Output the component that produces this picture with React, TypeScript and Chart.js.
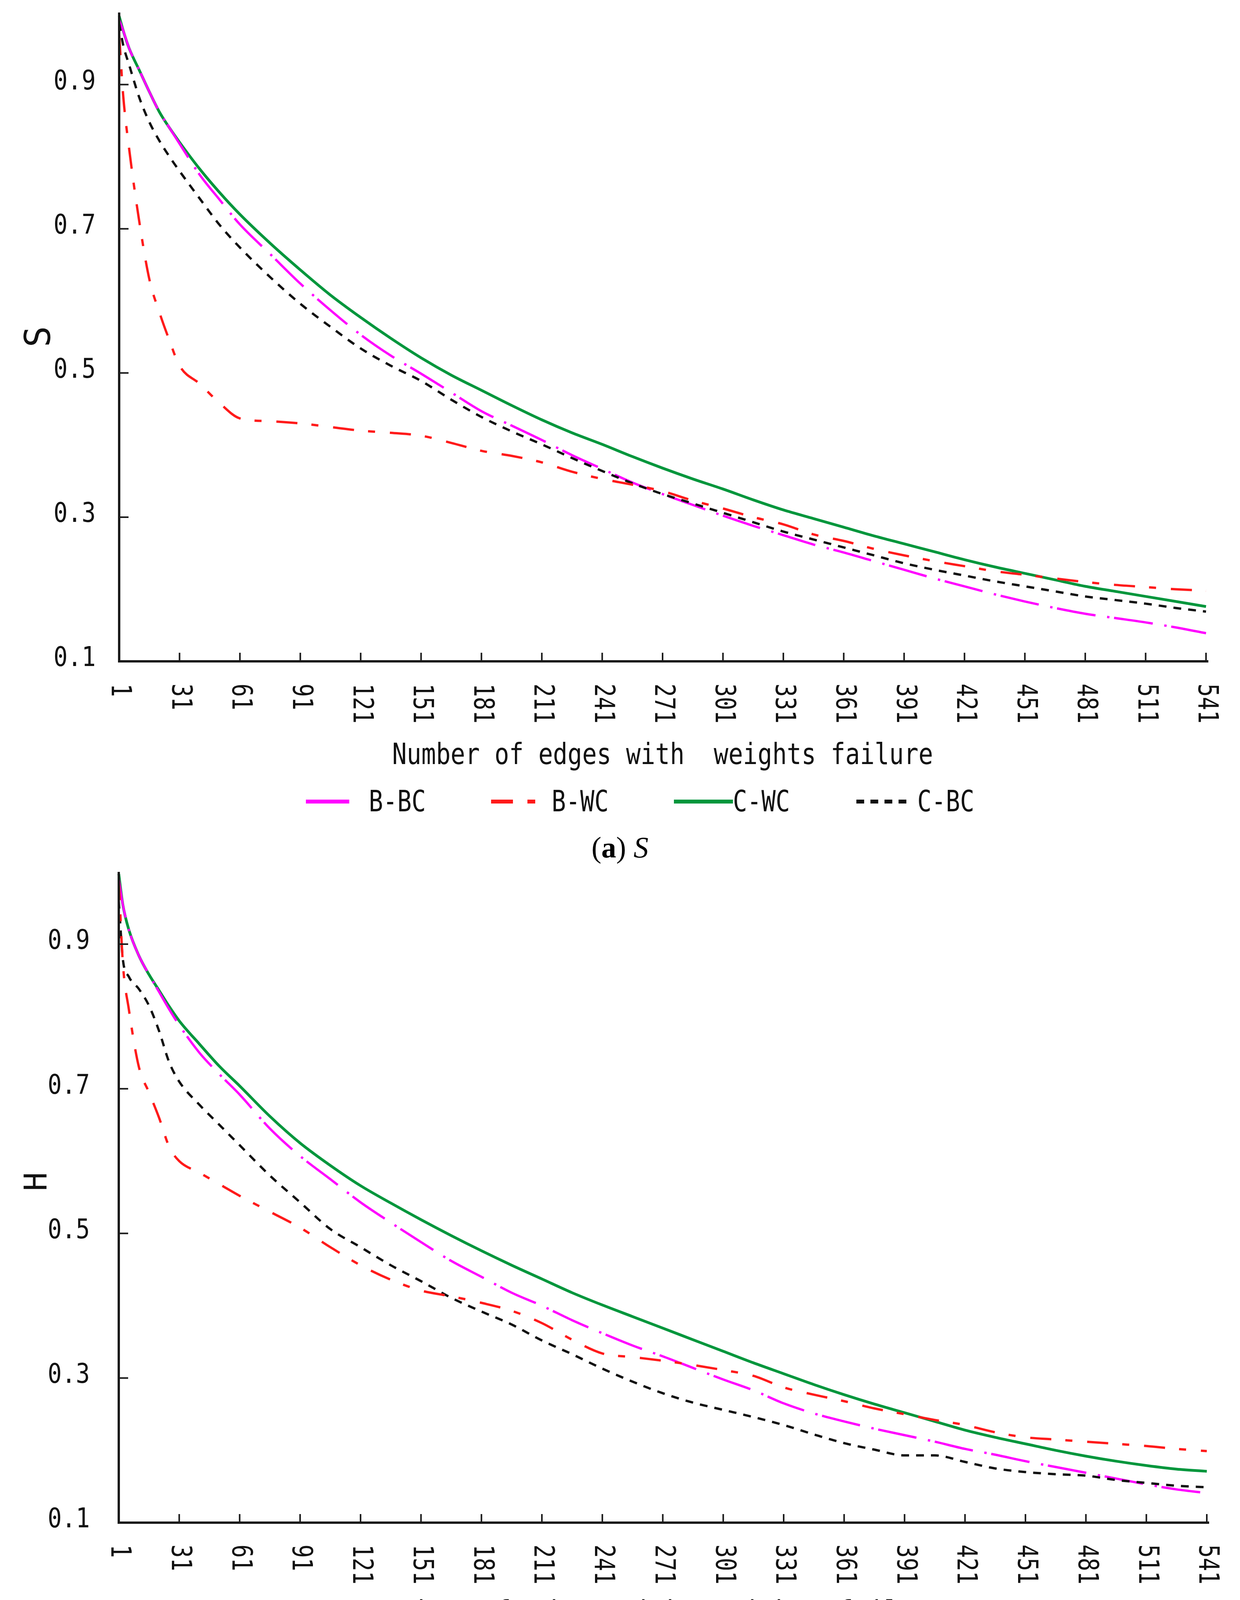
import { useEffect, useRef } from 'react';
import { Chart, registerables } from 'chart.js';

Chart.register(...registerables);

// x positions (number of edges with weights failure)
const xValues = [1, 3, 6, 11, 16, 21, 26, 31, 41, 51, 61, 76, 91, 106, 121, 136, 151, 166, 181, 196, 211, 226, 241, 256, 271, 286, 301, 316, 331, 346, 361, 376, 391, 406, 421, 436, 451, 466, 481, 496, 511, 526, 541];
const xTicks = [1, 31, 61, 91, 121, 151, 181, 211, 241, 271, 301, 331, 361, 391, 421, 451, 481, 511, 541];
const yTicks = [0.1, 0.3, 0.5, 0.7, 0.9];

// (a) S
const sBBC = [0.99, 0.975, 0.95, 0.92, 0.89, 0.862, 0.84, 0.818, 0.775, 0.74, 0.706, 0.665, 0.624, 0.587, 0.553, 0.524, 0.499, 0.473, 0.447, 0.427, 0.407, 0.386, 0.367, 0.348, 0.332, 0.317, 0.302, 0.288, 0.275, 0.262, 0.251, 0.239, 0.227, 0.215, 0.204, 0.193, 0.183, 0.174, 0.166, 0.16, 0.154, 0.147, 0.139];
const sBWC = [0.97, 0.885, 0.81, 0.71, 0.63, 0.584, 0.545, 0.51, 0.485, 0.458, 0.437, 0.433, 0.43, 0.425, 0.42, 0.417, 0.413, 0.403, 0.392, 0.385, 0.376, 0.363, 0.353, 0.345, 0.336, 0.323, 0.312, 0.3, 0.29, 0.276, 0.267, 0.256, 0.247, 0.239, 0.232, 0.225, 0.22, 0.215, 0.21, 0.206, 0.203, 0.2, 0.198];
const sCWC = [0.995, 0.975, 0.95, 0.92, 0.89, 0.862, 0.84, 0.82, 0.783, 0.75, 0.72, 0.68, 0.643, 0.608, 0.577, 0.548, 0.521, 0.497, 0.476, 0.455, 0.435, 0.417, 0.401, 0.384, 0.368, 0.353, 0.339, 0.324, 0.31, 0.298, 0.286, 0.274, 0.263, 0.252, 0.241, 0.231, 0.222, 0.213, 0.204, 0.197, 0.19, 0.183, 0.176];
const sCBC = [0.985, 0.955, 0.927, 0.882, 0.848, 0.822, 0.8, 0.78, 0.742, 0.705, 0.674, 0.633, 0.596, 0.564, 0.534, 0.51, 0.489, 0.463, 0.439, 0.419, 0.401, 0.382, 0.364, 0.347, 0.332, 0.319, 0.306, 0.293, 0.28, 0.269, 0.258, 0.247, 0.236, 0.227, 0.219, 0.211, 0.204, 0.197, 0.19, 0.185, 0.18, 0.174, 0.169];

// (b) H
const hBBC = [0.99, 0.955, 0.92, 0.884, 0.858, 0.834, 0.81, 0.788, 0.75, 0.72, 0.692, 0.645, 0.607, 0.575, 0.543, 0.515, 0.488, 0.462, 0.44, 0.418, 0.4, 0.38, 0.362, 0.345, 0.33, 0.314, 0.298, 0.283, 0.265, 0.251, 0.24, 0.23, 0.221, 0.212, 0.202, 0.194, 0.185, 0.177, 0.169, 0.161, 0.153, 0.146, 0.141];
const hBWC = [0.99, 0.875, 0.81, 0.73, 0.695, 0.66, 0.62, 0.6, 0.584, 0.568, 0.552, 0.53, 0.508, 0.481, 0.456, 0.436, 0.421, 0.413, 0.404, 0.393, 0.376, 0.353, 0.334, 0.329, 0.324, 0.318, 0.311, 0.303, 0.287, 0.277, 0.268, 0.258, 0.25, 0.242, 0.235, 0.225, 0.218, 0.215, 0.212, 0.209, 0.206, 0.202, 0.199];
const hCWC = [0.997, 0.955, 0.92, 0.884, 0.858, 0.836, 0.814, 0.794, 0.762, 0.731, 0.704, 0.662, 0.625, 0.594, 0.566, 0.542, 0.519, 0.497, 0.476, 0.456, 0.437, 0.418, 0.401, 0.385, 0.369, 0.353, 0.337, 0.321, 0.306, 0.291, 0.277, 0.264, 0.252, 0.24, 0.228, 0.218, 0.209, 0.2, 0.192, 0.185, 0.179, 0.174, 0.171];
const hCBC = [0.96, 0.88, 0.855, 0.838, 0.815, 0.78, 0.737, 0.71, 0.678, 0.65, 0.622, 0.58, 0.543, 0.506, 0.481, 0.456, 0.434, 0.411, 0.392, 0.374, 0.352, 0.333, 0.313, 0.295, 0.279, 0.266, 0.256, 0.246, 0.235, 0.222, 0.21, 0.201, 0.193, 0.193, 0.184, 0.175, 0.17, 0.167, 0.165, 0.159, 0.155, 0.151, 0.149];

const xTitle = 'Number of edges with  weights failure';

const MONO = '"DejaVu Sans Mono", monospace';
const MAGENTA = '#ff00ff';
const RED = '#ff1a1a';
const GREEN = '#00963c';
const BLACK = '#111111';

const styles: Record<string, { color: string; dash: number[]; width: number }> = {
  'B-BC': { color: MAGENTA, dash: [100, 30, 6, 12], width: 6 },
  'B-WC': { color: RED, dash: [54, 36, 18, 38], width: 6 },
  'C-WC': { color: GREEN, dash: [], width: 7 },
  'C-BC': { color: BLACK, dash: [20, 18], width: 6 },
};

type LegendItem = { label: string; dash: number[]; x0: number; x1: number; textX: number };

type PanelProps = {
  top: number;
  series: { label: string; data: number[] }[];
  yTitle: string;
  padding: { left: number; top: number; right: number; bottom: number };
  yLabelRight: number;
  xLabelGap: number;
  title: { x: number; y: number; size: number; sx: number };
  yTitlePos: { x: number; y: number; size: number };
  legend: { lineY: number; textY: number; size: number; sx: number; items: LegendItem[] };
};

const CANVAS_W = 3174;
const CANVAS_H = 2110;

function drawText(ctx: CanvasRenderingContext2D, text: string, x: number, y: number, size: number, sx: number, align: CanvasTextAlign, baseline: CanvasTextBaseline, rot = 0) {
  ctx.save();
  ctx.translate(x, y);
  if (rot) ctx.rotate(rot);
  ctx.scale(sx, 1);
  ctx.font = `${size}px ${MONO}`;
  ctx.textAlign = align;
  ctx.textBaseline = baseline;
  ctx.fillStyle = '#111';
  ctx.fillText(text, 0, 0);
  ctx.restore();
}

function Panel(props: PanelProps) {
  const canvasRef = useRef<HTMLCanvasElement>(null);
  const chartRef = useRef<Chart | null>(null);

  useEffect(() => {
    if (!canvasRef.current) return;
    if (chartRef.current) chartRef.current.destroy();

    const decor = {
      id: 'decor',
      afterDraw(chart: Chart) {
        const { ctx, chartArea } = chart;
        const xs = chart.scales.x;
        const ys = chart.scales.y;
        ctx.save();
        // axes
        ctx.strokeStyle = '#1a1a1a';
        ctx.lineWidth = 6;
        ctx.beginPath();
        ctx.moveTo(chartArea.left, chartArea.top);
        ctx.lineTo(chartArea.left, chartArea.bottom);
        ctx.lineTo(chartArea.right + 6, chartArea.bottom);
        ctx.stroke();
        // inward tick marks
        ctx.lineWidth = 4;
        ctx.beginPath();
        yTicks.forEach((v) => {
          if (v === 0.1) return;
          const y = ys.getPixelForValue(v);
          ctx.moveTo(chartArea.left, y);
          ctx.lineTo(chartArea.left + 24, y);
        });
        xTicks.forEach((v) => {
          if (v === 1) return;
          const x = xs.getPixelForValue(v);
          ctx.moveTo(x, chartArea.bottom);
          ctx.lineTo(x, chartArea.bottom - 22);
        });
        ctx.stroke();
        ctx.restore();

        // y labels
        yTicks.forEach((v) => {
          drawText(ctx, v.toFixed(1), props.yLabelRight, ys.getPixelForValue(v) - 6, 70, 0.855, 'right', 'middle');
        });
        // x labels, rotated clockwise
        xTicks.forEach((v) => {
          drawText(ctx, String(v), xs.getPixelForValue(v), chartArea.bottom + props.xLabelGap, 72, 0.785, 'left', 'middle', Math.PI / 2);
        });
        // axis titles
        const t = props.title;
        drawText(ctx, xTitle, t.x, t.y, t.size, t.sx, 'center', 'alphabetic');
        const yt = props.yTitlePos;
        drawText(ctx, props.yTitle, yt.x, yt.y, yt.size, 1, 'center', 'middle', -Math.PI / 2);

        // legend
        const lg = props.legend;
        lg.items.forEach((it) => {
          const st = styles[it.label];
          ctx.save();
          ctx.strokeStyle = st.color;
          ctx.lineWidth = 10;
          ctx.setLineDash(it.dash);
          ctx.beginPath();
          ctx.moveTo(it.x0, lg.lineY);
          ctx.lineTo(it.x1, lg.lineY);
          ctx.stroke();
          ctx.restore();
          drawText(ctx, it.label, it.textX, lg.textY, lg.size, lg.sx, 'left', 'alphabetic');
        });
      },
    };

    chartRef.current = new Chart(canvasRef.current, {
      type: 'line',
      data: {
        datasets: props.series.map((s) => ({
          label: s.label,
          data: xValues.map((x, i) => ({ x, y: s.data[i] })),
          borderColor: styles[s.label].color,
          borderWidth: styles[s.label].width,
          borderDash: styles[s.label].dash,
          fill: false,
          pointRadius: 0,
          cubicInterpolationMode: 'monotone' as const,
          clip: 10,
        })),
      },
      options: {
        responsive: false,
        animation: false,
        devicePixelRatio: 1,
        layout: { padding: props.padding },
        plugins: { legend: { display: false }, tooltip: { enabled: false } },
        scales: {
          x: { type: 'linear', min: 1, max: 541, display: false },
          y: { type: 'linear', min: 0.1, max: 1.0, display: false },
        },
      },
      plugins: [decor],
    });

    return () => {
      if (chartRef.current) {
        chartRef.current.destroy();
        chartRef.current = null;
      }
    };
  }, []);

  return (
    <canvas
      ref={canvasRef}
      width={CANVAS_W}
      height={CANVAS_H}
      style={{ position: 'absolute', left: 0, top: props.top, width: CANVAS_W, height: CANVAS_H }}
    />
  );
}

const captionStyle = {
  position: 'absolute' as const,
  fontFamily: '"Liberation Serif", "Times New Roman", serif',
  fontSize: 76,
  lineHeight: '76px',
  color: '#000',
  whiteSpace: 'nowrap' as const,
};

export default function App() {
  return (
    <div style={{ position: 'absolute', left: 0, top: 0, width: 3174, height: 4428, background: '#fff', overflow: 'hidden' }}>
      <Panel
        top={0}
        series={[
          { label: 'B-WC', data: sBWC },
          { label: 'C-BC', data: sCBC },
          { label: 'B-BC', data: sBBC },
          { label: 'C-WC', data: sCWC },
        ]}
        yTitle="S"
        padding={{ left: 305, top: 32, right: 87, bottom: 417 }}
        yLabelRight={245}
        xLabelGap={57}
        title={{ x: 1696, y: 1956, size: 74, sx: 0.84 }}
        yTitlePos={{ x: 105, y: 862, size: 90 }}
        legend={{
          lineY: 2052,
          textY: 2077,
          size: 74,
          sx: 0.82,
          items: [
            { label: 'B-BC', dash: [], x0: 783, x1: 894, textX: 944 },
            { label: 'B-WC', dash: [56, 37, 20, 200], x0: 1257, x1: 1370, textX: 1412 },
            { label: 'C-WC', dash: [], x0: 1725, x1: 1876, textX: 1876 },
            { label: 'C-BC', dash: [20, 16], x0: 2192, x1: 2328, textX: 2348 },
          ],
        }}
      />
      <div style={{ ...captionStyle, left: 1514, top: 2131 }}>
        (<b>a</b>) <i>S</i>
      </div>
      <Panel
        top={2200}
        series={[
          { label: 'B-WC', data: hBWC },
          { label: 'C-BC', data: hCBC },
          { label: 'B-BC', data: hBBC },
          { label: 'C-WC', data: hCWC },
        ]}
        yTitle="H"
        padding={{ left: 304, top: 32, right: 85, bottom: 412 }}
        yLabelRight={230}
        xLabelGap={56}
        title={{ x: 1686, y: 1952, size: 76, sx: 0.87 }}
        yTitlePos={{ x: 98, y: 825, size: 80 }}
        legend={{
          lineY: 2048,
          textY: 2073,
          size: 76,
          sx: 0.83,
          items: [
            { label: 'B-BC', dash: [], x0: 740, x1: 862, textX: 908 },
            { label: 'B-WC', dash: [61, 41, 20, 200], x0: 1199, x1: 1321, textX: 1367 },
            { label: 'C-BC', dash: [20, 16], x0: 1659, x1: 1792, textX: 1834 },
            { label: 'C-WC', dash: [], x0: 2122, x1: 2272, textX: 2280 },
          ],
        }}
      />
      <div style={{ ...captionStyle, left: 1512, top: 4331 }}>
        (<b>b</b>) <i>H</i>
      </div>
    </div>
  );
}
